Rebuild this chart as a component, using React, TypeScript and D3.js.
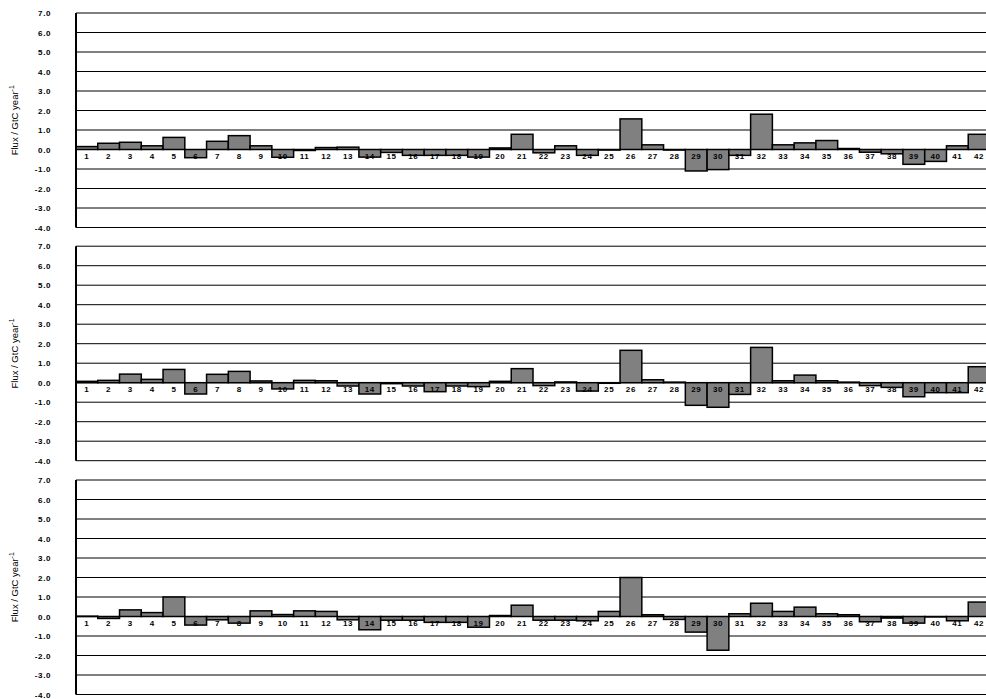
import React from "react";
import * as d3 from "d3";

const categories = ["1","2","3","4","5","6","7","8","9","10","11","12","13","14","15","16","17","18","19","20","21","22","23","24","25","26","27","28","29","30","31","32","33","34","35","36","37","38","39","40","41","42"];

const seriesTop = [0.15, 0.32, 0.37, 0.19, 0.62, -0.42, 0.42, 0.71, 0.19, -0.4, -0.05, 0.1, 0.12, -0.39, -0.15, -0.3, -0.3, -0.3, -0.39, 0.08, 0.78, -0.17, 0.19, -0.3, -0.03, 1.57, 0.24, -0.03, -1.1, -1.03, -0.3, 1.81, 0.24, 0.34, 0.46, 0.05, -0.14, -0.22, -0.76, -0.61, 0.19, 0.78];

const seriesMiddle = [0.07, 0.12, 0.44, 0.17, 0.68, -0.58, 0.43, 0.58, 0.09, -0.32, 0.12, 0.1, -0.17, -0.58, -0.05, -0.17, -0.46, -0.17, -0.2, 0.07, 0.72, -0.15, 0.04, -0.43, -0.03, 1.66, 0.15, 0.03, -1.16, -1.26, -0.6, 1.81, 0.1, 0.39, 0.1, 0.03, -0.15, -0.24, -0.72, -0.51, -0.51, 0.82];

const seriesBottom = [0.02, -0.1, 0.34, 0.2, 1.0, -0.44, -0.17, -0.34, 0.29, 0.1, 0.29, 0.26, -0.17, -0.68, -0.19, -0.19, -0.3, -0.3, -0.55, 0.05, 0.58, -0.19, -0.19, -0.22, 0.26, 2.0, 0.09, -0.15, -0.8, -1.73, 0.14, 0.68, 0.26, 0.48, 0.14, 0.09, -0.27, -0.08, -0.34, 0.0, -0.22, 0.74];

const yTicks = [7, 6, 5, 4, 3, 2, 1, 0, -1, -2, -3, -4];
const yDomain = [-4, 7];

const panels = [seriesTop, seriesMiddle, seriesBottom];
const panelTops = [13, 246.2, 480];
const panelHeight = 214.5;
const plotLeft = 76;
const plotRight = 990;

const W = 986;
const H = 699;

function Panel({ values, top }: { values: number[]; top: number }) {
  const y = d3.scaleLinear().domain(yDomain).range([top + panelHeight, top]);
  const x = d3.scaleBand<string>().domain(categories).range([plotLeft, plotRight]).padding(0);
  const y0 = y(0);
  const tickFont = "'Liberation Sans', Arial, sans-serif";
  return (
    <g>
      {yTicks.map((t) => (
        <line key={"g" + t} x1={plotLeft} x2={W} y1={y(t)} y2={y(t)} stroke="#000" strokeWidth={1} />
      ))}
      {yTicks.map((t) => (
        <text
          key={"t" + t}
          x={51}
          y={y(t) + 3}
          textAnchor="end"
          fontSize={8}
          fontWeight="bold"
          fontFamily={tickFont}
          letterSpacing={0.6}
          fill="#000"
        >
          {t.toFixed(1)}
        </text>
      ))}
      {values.map((v, i) => {
        const c = categories[i];
        const yTop = y(Math.max(0, v));
        const yBot = y(Math.min(0, v));
        return (
          <rect
            key={"b" + c}
            x={x(c)}
            y={yTop}
            width={x.bandwidth()}
            height={Math.max(0.5, yBot - yTop)}
            fill="#808080"
            stroke="#000"
            strokeWidth={1.5}
          />
        );
      })}
      {categories.map((c) => (
        <text
          key={"c" + c}
          x={(x(c) as number) + x.bandwidth() / 2}
          y={y0 + 9}
          textAnchor="middle"
          fontSize={8}
          fontWeight="bold"
          fontFamily={tickFont}
          letterSpacing={0.6}
          fill="#000"
        >
          {c}
        </text>
      ))}
      <line x1={plotLeft} x2={plotLeft} y1={top} y2={top + panelHeight} stroke="#000" strokeWidth={2} />
      <text
        transform={`translate(18,${top + panelHeight / 2}) rotate(-90)`}
        textAnchor="middle"
        fontSize={9.5}
        fontFamily={tickFont}
        fill="#000"
      >
        Flux / GtC year<tspan dy={-4} fontSize={7}>-1</tspan>
      </text>
    </g>
  );
}

export default function App() {
  return (
    <svg
      width={W}
      height={H}
      viewBox={`0 0 ${W} ${H}`}
      style={{ position: "absolute", left: 0, top: 0, background: "#fff" }}
    >
      <rect x={0} y={0} width={W} height={H} fill="#fff" />
      {panels.map((vals, i) => (
        <Panel key={i} values={vals} top={panelTops[i]} />
      ))}
    </svg>
  );
}
